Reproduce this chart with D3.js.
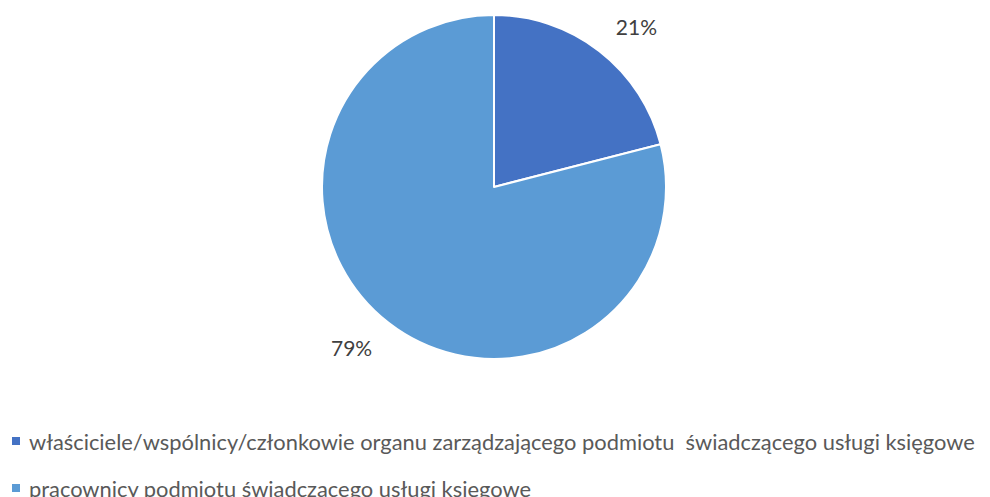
<!DOCTYPE html>
<html>
<head>
<meta charset="utf-8">
<script src="https://cdn.jsdelivr.net/npm/d3@7"></script>
<style>
  body { margin: 0; background: #fff; }
  svg { display: block; }
</style>
</head>
<body>
<div id="chart"></div>
<script>
// dane
const categories = [
  "właściciele/wspólnicy/członkowie organu zarządzającego podmiotu  świadczącego usługi księgowe",
  "pracownicy podmiotu świadczącego usługi księgowe"
];
const values = [21, 79];
const colors = ["#4472C4", "#5B9BD5"];

const width = 990, height = 497;
const cx = 494, cy = 187, radius = 172;
const font = "Lato, 'Open Sans', sans-serif";

const svg = d3.select("#chart").append("svg")
  .attr("width", width)
  .attr("height", height);

const data = categories.map((c, i) => ({ name: c, value: values[i], color: colors[i] }));

const pie = d3.pie().sort(null).value(d => d.value);
const arcs = pie(data);
const arc = d3.arc().innerRadius(0).outerRadius(radius);
const labelArc = d3.arc().innerRadius(190).outerRadius(190);

const g = svg.append("g").attr("transform", `translate(${cx},${cy})`);

g.selectAll("path.slice")
  .data(arcs)
  .join("path")
  .attr("class", "slice")
  .attr("d", arc)
  .attr("fill", d => d.data.color)
  .attr("stroke", "#fff")
  .attr("stroke-width", 2)
  .attr("stroke-linejoin", "round");

// etykiety procentowe, poza wycinkiem
g.selectAll("text.lbl")
  .data(arcs)
  .join("text")
  .attr("class", "lbl")
  .attr("x", d => {
    const [x] = labelArc.centroid(d);
    return x + Math.sign(x) * 26;
  })
  .attr("y", d => {
    const [, y] = labelArc.centroid(d);
    return y + Math.sign(y) * 10;
  })
  .attr("text-anchor", "middle")
  .attr("dominant-baseline", "central")
  .attr("font-family", font)
  .attr("font-size", 21)
  .attr("fill", "#404040")
  .text(d => d.data.value + "%");

// legenda
const legend = svg.append("g");
const rowY = [441, 488];
const item = legend.selectAll("g.item")
  .data(data)
  .join("g")
  .attr("class", "item")
  .attr("transform", (d, i) => `translate(0,${rowY[i]})`);

item.append("rect")
  .attr("x", 12)
  .attr("y", -4)
  .attr("width", 8)
  .attr("height", 8)
  .attr("fill", d => d.color);

item.append("text")
  .attr("x", 29)
  .attr("y", 0)
  .attr("dominant-baseline", "central")
  .attr("font-family", font)
  .attr("font-size", 21)
  .attr("fill", "#595959")
  .style("white-space", "pre")
  .text(d => d.name);

// dopasowanie szerokości pierwszego wiersza do oryginału
const first = item.select("text").node();
const w = first.getComputedTextLength();
const target = 946;
const fs = 21 * target / w;
item.selectAll("text").attr("font-size", fs);
</script>
</body>
</html>
